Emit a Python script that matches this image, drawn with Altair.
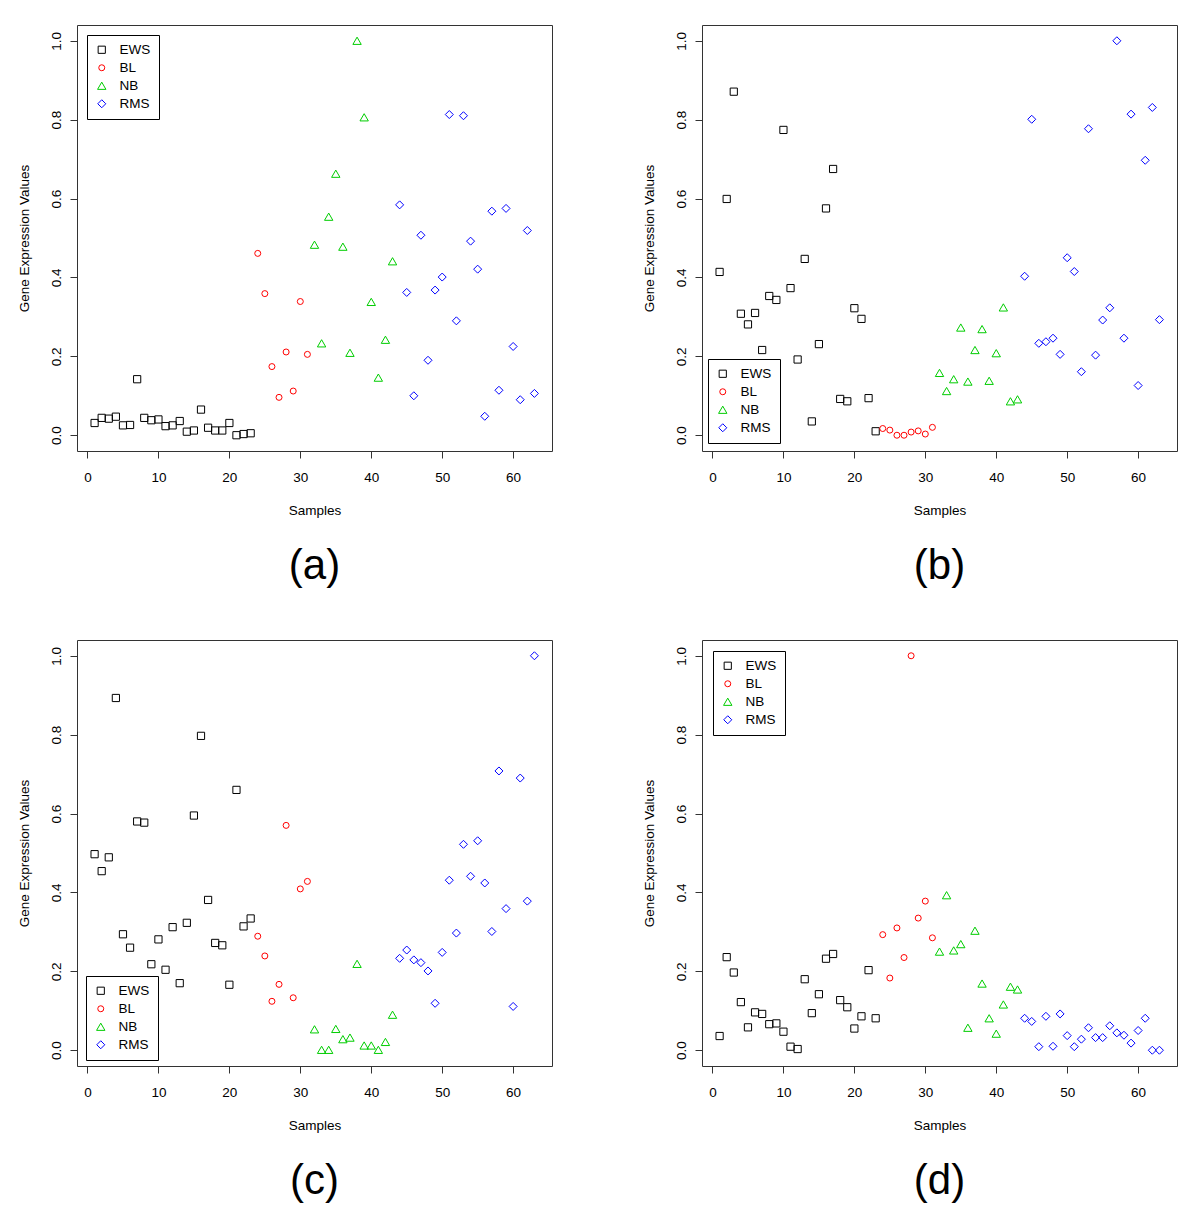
import altair as alt
import pandas as pd

# ---------------- data ----------------
samples = list(range(1, 64))
class_names = ["EWS", "BL", "NB", "RMS"]
classes = ["EWS"] * 23 + ["BL"] * 8 + ["NB"] * 12 + ["RMS"] * 20

a_ews = [0.031, 0.044, 0.042, 0.047, 0.025, 0.026, 0.142, 0.044, 0.038, 0.040, 0.023, 0.025,
         0.036, 0.009, 0.012, 0.065, 0.019, 0.012, 0.012, 0.031, 0.0, 0.003, 0.005]
a_bl = [0.461, 0.359, 0.174, 0.096, 0.211, 0.112, 0.339, 0.205]
a_nb = [0.483, 0.233, 0.554, 0.663, 0.478, 0.209, 1.0, 0.806, 0.338, 0.146, 0.242, 0.441]
a_rms = [0.584, 0.362, 0.100, 0.507, 0.190, 0.368, 0.401, 0.813, 0.290, 0.810, 0.492, 0.421,
         0.048, 0.568, 0.114, 0.575, 0.225, 0.090, 0.519, 0.106]

b_ews = [0.414, 0.599, 0.871, 0.308, 0.281, 0.310, 0.216, 0.353, 0.343, 0.774, 0.373, 0.192,
         0.447, 0.035, 0.231, 0.575, 0.675, 0.092, 0.086, 0.322, 0.295, 0.094, 0.010]
b_bl = [0.017, 0.013, 0.0, 0.0, 0.008, 0.011, 0.003, 0.020]
b_nb = [0.158, 0.112, 0.142, 0.273, 0.136, 0.216, 0.269, 0.138, 0.208, 0.324, 0.086, 0.091]
b_rms = [0.403, 0.801, 0.233, 0.237, 0.246, 0.205, 0.450, 0.415, 0.161, 0.777, 0.203, 0.292,
         0.323, 1.0, 0.246, 0.814, 0.126, 0.697, 0.831, 0.293]

c_ews = [0.497, 0.454, 0.489, 0.893, 0.294, 0.260, 0.580, 0.577, 0.218, 0.281, 0.204, 0.312,
         0.170, 0.323, 0.595, 0.797, 0.381, 0.272, 0.266, 0.166, 0.660, 0.314, 0.334]
c_bl = [0.289, 0.239, 0.124, 0.167, 0.570, 0.133, 0.409, 0.428]
c_nb = [0.053, 0.001, 0.001, 0.054, 0.028, 0.032, 0.219, 0.012, 0.012, 0.001, 0.021, 0.090]
c_rms = [0.233, 0.254, 0.229, 0.222, 0.201, 0.119, 0.248, 0.431, 0.297, 0.522, 0.441, 0.531,
         0.424, 0.301, 0.708, 0.359, 0.111, 0.690, 0.378, 1.0]

d_ews = [0.036, 0.236, 0.197, 0.122, 0.058, 0.096, 0.092, 0.066, 0.068, 0.047, 0.009, 0.003,
         0.180, 0.094, 0.142, 0.232, 0.244, 0.127, 0.109, 0.055, 0.086, 0.203, 0.081]
d_bl = [0.293, 0.183, 0.310, 0.235, 1.0, 0.335, 0.378, 0.285]
d_nb = [0.250, 0.393, 0.253, 0.269, 0.057, 0.303, 0.169, 0.081, 0.042, 0.116, 0.161, 0.154]
d_rms = [0.081, 0.073, 0.009, 0.086, 0.010, 0.092, 0.037, 0.009, 0.028, 0.057, 0.032, 0.032,
         0.062, 0.044, 0.038, 0.018, 0.050, 0.081, 0.0, 0.0]

panel_labels = ["(a)", "(b)", "(c)", "(d)"]
panel_values = [a_ews + a_bl + a_nb + a_rms,
                b_ews + b_bl + b_nb + b_rms,
                c_ews + c_bl + c_nb + c_rms,
                d_ews + d_bl + d_nb + d_rms]

x_ticks = [0, 10, 20, 30, 40, 50, 60]
y_ticks = [0.0, 0.2, 0.4, 0.6, 0.8, 1.0]

# ---------------- styling ----------------
FONT = "Liberation Sans"
class_colors = ["#000000", "#FF0000", "#00CD00", "#0000FF"]
class_shapes = ["square", "circle", "triangle-up", "diamond"]
class_sizes = [52, 36, 70, 64]
legend_xy = [(10, 10), (6, 334), (9, 336), (11, 11)]
W, H = 475, 426


def make_panel(label, vals, lxy):
    df = pd.DataFrame({"Sample": samples, "Value": vals, "Class": classes})
    leg = alt.Legend(
        title=None, orient="none", legendX=lxy[0], legendY=lxy[1],
        strokeColor="black", fillColor="white", padding=8,
        labelFont=FONT, labelFontSize=13.5, labelColor="black", labelOffset=11,
        rowPadding=3, symbolStrokeWidth=1,
    )
    return alt.Chart(df).mark_point(filled=False, strokeWidth=1, opacity=1).encode(
        x=alt.X("Sample:Q",
                scale=alt.Scale(domain=[-1.48, 65.48], nice=False, zero=False),
                axis=alt.Axis(values=x_ticks, title="Samples", format="d",
                              labelPadding=12, titlePadding=20)),
        y=alt.Y("Value:Q",
                scale=alt.Scale(domain=[-0.04, 1.04], nice=False, zero=False),
                axis=alt.Axis(values=y_ticks, title="Gene Expression Values", format=".1f",
                              labelAngle=270, labelAlign="center", labelBaseline="bottom",
                              labelPadding=7, titlePadding=18)),
        color=alt.Color("Class:N", scale=alt.Scale(domain=class_names, range=class_colors), legend=leg),
        shape=alt.Shape("Class:N", scale=alt.Scale(domain=class_names, range=class_shapes), legend=leg),
        size=alt.Size("Class:N", scale=alt.Scale(type="ordinal", domain=class_names, range=class_sizes),
                      legend=leg),
    ).properties(
        width=W, height=H,
        title=alt.Title(label, orient="bottom", anchor="middle", fontSize=42, font=FONT,
                        fontWeight="normal", color="black", offset=29),
    )


charts = [make_panel(l, v, p) for l, v, p in zip(panel_labels, panel_values, legend_xy)]

chart = alt.concat(*charts, columns=2, spacing={"row": 51, "column": 88}).resolve_scale(
    color="independent", shape="independent", size="independent"
).resolve_legend(
    color="independent", shape="independent", size="independent"
).properties(
    padding={"left": 8, "top": 16, "right": 5, "bottom": 5},
    background="white",
).configure_view(
    stroke="#333333", strokeWidth=1
).configure_axis(
    domain=False, grid=False, tickColor="#333333", tickSize=7, tickWidth=1,
    labelFont=FONT, titleFont=FONT, labelFontSize=13.5, titleFontSize=13.5,
    labelColor="black", titleColor="black", titleFontWeight="normal",
)

chart.save("out.html", embed_options={"renderer": "svg", "actions": False})
